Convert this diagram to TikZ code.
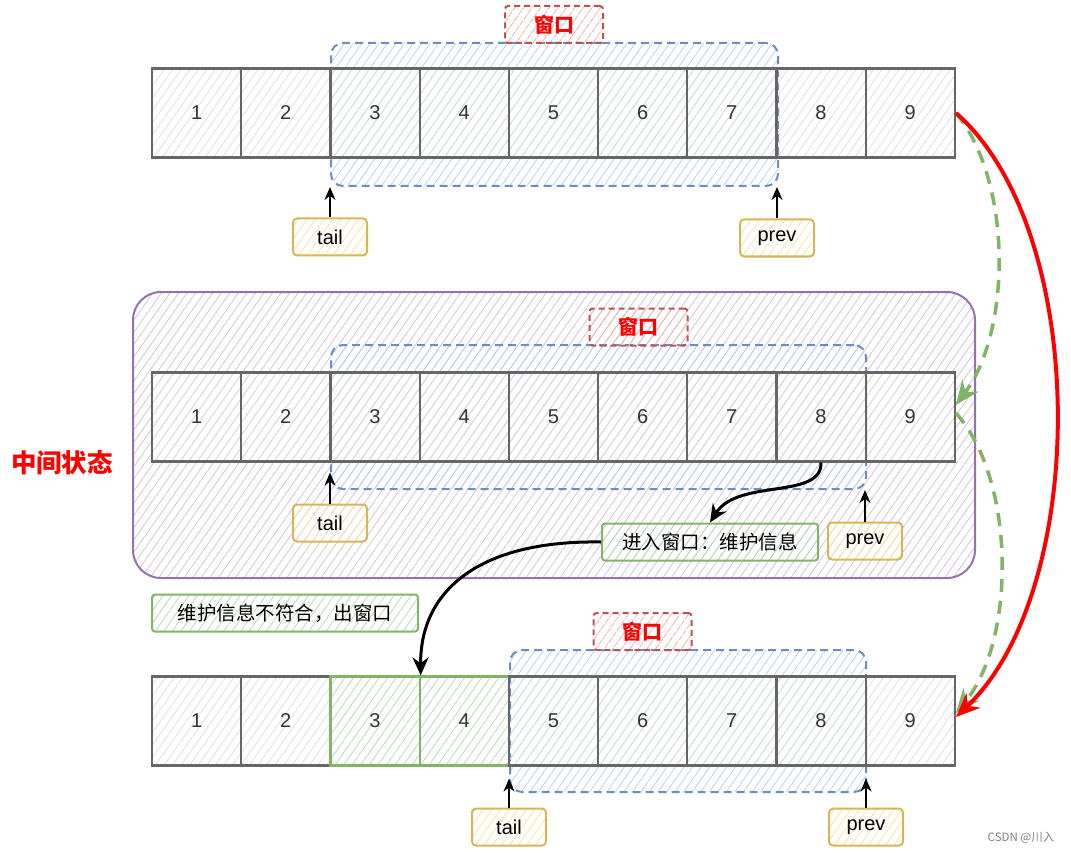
\documentclass[tikz,border=0pt]{standalone}
\usepackage{fontspec}
\setmainfont{Liberation Sans}
\newfontfamily\cjk{Noto Sans CJK SC}
\usetikzlibrary{arrows.meta,patterns.meta}

\definecolor{zellgrau}{HTML}{666666}
\definecolor{blaurand}{HTML}{6C8EBF}
\definecolor{blaufill}{HTML}{B9D1F0}
\definecolor{rotrand}{HTML}{B85450}
\definecolor{rotfill}{HTML}{F2B1AD}
\definecolor{lilarand}{HTML}{9673A6}
\definecolor{lilafill}{HTML}{D4C3DC}
\definecolor{gelbrand}{HTML}{D6B656}
\definecolor{gelbfill}{HTML}{FBE3A0}
\definecolor{gruenrand}{HTML}{82B366}
\definecolor{gruenfill}{HTML}{B9DBB5}

\tikzset{
  schraffur/.style={pattern={Lines[angle=55,distance=7pt,line width=0.8pt]}, pattern color=#1},
  zelle/.style={draw=zellgrau, line width=2.2pt, minimum width=89.2pt, minimum height=89pt,
    inner sep=0pt, schraffur=gray!25, font=\fontsize{20}{24}\selectfont, text=black!80},
  gzelle/.style={zelle, draw=gruenrand, schraffur=gruenfill},
  fenster/.style={draw=blaurand, line width=2pt, dashed, dash pattern=on 8pt off 5pt,
    rounded corners=12pt, schraffur=blaufill},
  fensterlabel/.style={draw=rotrand, line width=2pt, dash pattern=on 6pt off 4pt,
    rounded corners=3pt, schraffur=rotfill, minimum width=98pt, minimum height=37pt,
    text=red, font=\cjk\bfseries\fontsize{20}{24}\selectfont},
  rahmen/.style={draw=lilarand, line width=2pt, rounded corners=28pt, schraffur=lilafill},
  marke/.style={draw=gelbrand, line width=2pt, rounded corners=4pt, schraffur=gelbfill,
    minimum width=74pt, minimum height=37pt, font=\fontsize{20}{24}\selectfont},
  hinweis/.style={draw=gruenrand, line width=2pt, rounded corners=3pt, schraffur=gruenfill,
    minimum height=37pt, font=\cjk\fontsize{19.5}{22}\selectfont},
  zeiger/.style={->, line width=1.6pt},
  bogen/.style={-{Stealth[length=18pt,width=16pt]}, line width=3pt},
  rotpfeil/.style={draw=red, line width=4pt, -{Stealth[length=24pt,width=20pt]}},
  gruenpfeil/.style={draw=gruenrand, line width=3.5pt, dash pattern=on 13pt off 9pt,
    -{Stealth[length=24pt,width=20pt]}}
}

\begin{document}
\begin{tikzpicture}[x=1pt,y=-1pt,>={Stealth[length=13pt,width=11pt]}]
\useasboundingbox (0,0) rectangle (1071,853);

% Zwischenzustand
\node[rahmen, minimum width=842pt, minimum height=286pt] (mitte) at (554,435) {};
\node[text=red, font=\cjk\bfseries\fontsize{25.5}{30}\selectfont] (zwtext) at (62,463) {中间状态};

% Fenster
\node[fenster, minimum width=447pt, minimum height=143pt] (f1) at (554.5,114.5) {};
\node[fenster, minimum width=535pt, minimum height=144pt] (f2) at (598.5,417) {};
\node[fenster, minimum width=356pt, minimum height=142pt] (f3) at (688,721) {};

% Zellen
\foreach \i in {1,...,9} {
  \pgfmathsetmacro\xx{152+89.2*(\i-0.5)}
  \node[zelle] (a\i) at (\xx,113) {\i};
  \node[zelle] (b\i) at (\xx,417) {\i};
}
\foreach \i/\st in {1/zelle,2/zelle,3/gzelle,4/gzelle,5/zelle,6/zelle,7/zelle,8/zelle,9/zelle} {
  \pgfmathsetmacro\xx{152+89.2*(\i-0.5)}
  \node[\st] (c\i) at (\xx,721) {\i};
}

% Fensterbeschriftung
\node[fensterlabel] (l1) at (554,24.5) {窗口};
\node[fensterlabel] (l2) at (638.5,327) {窗口};
\node[fensterlabel] (l3) at (642.5,631.5) {窗口};

% Zeiger
\node[marke] (t1) at (330,237) {tail};
\node[marke] (p1) at (777,238) {prev};
\node[marke] (t2) at (330,523) {tail};
\node[marke] (p2) at (865,541) {prev};
\node[marke] (t3) at (509,827) {tail};
\node[marke] (p3) at (866,827) {prev};

\draw[zeiger] (t1) -- (t1 |- f1.south);
\draw[zeiger] (p1) -- (p1 |- f1.south);
\draw[zeiger] (t2) -- ([yshift=-10pt]t2 |- b3.south);
\draw[zeiger] (p2) -- (p2 |- f2.south);
\draw[zeiger] (t3) -- ([yshift=-12pt]t3 |- c5.south);
\draw[zeiger] (p3) -- ([yshift=-12pt]p3 |- c8.south);

% Hinweise
\node[hinweis, minimum width=216pt] (rein) at (710,542) {进入窗口：维护信息};
\node[hinweis, minimum width=266pt] (raus) at (285,613) {维护信息不符合，出窗口};

\draw[bogen] (b8.south) .. controls (822,500) and (738,478) .. (rein.north);
\draw[bogen] (rein.west) .. controls (480,540) and (420,590) .. (c3.north east);

% Uebergaenge
\draw[gruenpfeil] (a9.east) .. controls (1012,180) and (1012,330) .. ([yshift=12pt]b9.east);
\draw[gruenpfeil] ([yshift=4pt]b9.east) .. controls (1016,480) and (1016,640) .. ([yshift=8pt]c9.east);
\draw[rotpfeil] (a9.east) .. controls (1090,230) and (1090,590) .. ([yshift=4pt]c9.east);

\node[text=gray, font=\cjk\fontsize{11.5}{13}\selectfont] (wz) at (1021,838) {CSDN @川入};

\end{tikzpicture}
\end{document}
